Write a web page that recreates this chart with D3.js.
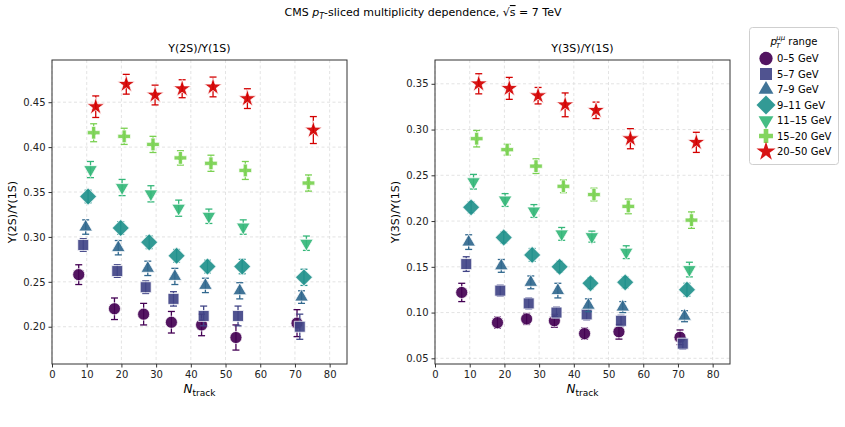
<!DOCTYPE html>
<html>
<head>
<meta charset="utf-8">
<script src="https://cdn.jsdelivr.net/npm/d3@7"></script>
<style>
  body { margin: 0; background: #fff; }
  svg { display: block; font-family: "DejaVu Sans", sans-serif; }
</style>
</head>
<body>
<svg width="845" height="427"></svg>
<script>
// pT slices of the dimuon
const ptBins = ["0–5 GeV", "5–7 GeV", "7–9 GeV", "9–11 GeV", "11–15 GeV", "15–20 GeV", "20–50 GeV"];

// mean Ntrack of each point, one row per pT slice
const nTrack = [
  [7.7, 18.0, 26.4, 34.4, 43.1, 53.0, 70.6],
  [9.0, 18.8, 27.0, 35.0, 43.7, 53.6, 71.4],
  [9.7, 19.1, 27.6, 35.4, 44.2, 54.1, 71.9],
  [10.4, 19.8, 28.0, 35.9, 44.8, 54.8, 72.6],
  [11.1, 20.2, 28.5, 36.5, 45.2, 55.1, 73.3],
  [12.0, 20.8, 29.1, 37.0, 45.8, 55.7, 73.9],
  [12.6, 21.4, 29.7, 37.5, 46.4, 56.3, 75.3]
];

// Y(2S)/Y(1S)
const ratio2S = [
  [0.258, 0.220, 0.214, 0.205, 0.202, 0.188, 0.204],
  [0.291, 0.262, 0.244, 0.231, 0.212, 0.212, 0.200],
  [0.311, 0.288, 0.265, 0.256, 0.246, 0.240, 0.233],
  [0.345, 0.310, 0.294, 0.279, 0.267, 0.267, 0.255],
  [0.375, 0.355, 0.348, 0.332, 0.323, 0.311, 0.293],
  [0.416, 0.412, 0.403, 0.388, 0.382, 0.374, 0.360],
  [0.445, 0.470, 0.458, 0.465, 0.467, 0.454, 0.419]
];
const err2S = [
  [0.011, 0.012, 0.012, 0.012, 0.012, 0.014, 0.015],
  [0.007, 0.007, 0.007, 0.008, 0.011, 0.011, 0.014],
  [0.008, 0.008, 0.008, 0.009, 0.008, 0.009, 0.007],
  [0.007, 0.007, 0.007, 0.007, 0.007, 0.008, 0.009],
  [0.009, 0.009, 0.009, 0.009, 0.008, 0.008, 0.008],
  [0.010, 0.009, 0.009, 0.008, 0.009, 0.010, 0.009],
  [0.012, 0.011, 0.011, 0.010, 0.011, 0.011, 0.015]
];

// Y(3S)/Y(1S)
const ratio3S = [
  [0.122, 0.089, 0.093, 0.091, 0.077, 0.079, 0.073],
  [0.153, 0.124, 0.110, 0.100, 0.098, 0.091, 0.066],
  [0.177, 0.151, 0.133, 0.124, 0.108, 0.106, 0.096],
  [0.215, 0.182, 0.163, 0.150, 0.132, 0.133, 0.125],
  [0.243, 0.223, 0.211, 0.186, 0.183, 0.166, 0.147],
  [0.290, 0.278, 0.260, 0.238, 0.229, 0.216, 0.201],
  [0.350, 0.345, 0.337, 0.327, 0.321, 0.290, 0.286]
];
const err3S = [
  [0.010, 0.006, 0.006, 0.007, 0.006, 0.008, 0.008],
  [0.008, 0.006, 0.006, 0.006, 0.006, 0.006, 0.006],
  [0.008, 0.007, 0.007, 0.008, 0.007, 0.006, 0.006],
  [0.006, 0.006, 0.007, 0.006, 0.006, 0.006, 0.007],
  [0.008, 0.007, 0.007, 0.007, 0.006, 0.007, 0.008],
  [0.009, 0.006, 0.008, 0.007, 0.007, 0.008, 0.009],
  [0.011, 0.012, 0.009, 0.013, 0.009, 0.011, 0.011]
];

const xTicks = [0, 10, 20, 30, 40, 50, 60, 70, 80];
const yTicks2S = [0.20, 0.25, 0.30, 0.35, 0.40, 0.45];
const yTicks3S = [0.05, 0.10, 0.15, 0.20, 0.25, 0.30, 0.35];

const colors = ["#440154", "#414487", "#31688e", "#21918c", "#35b779", "#7ad151", "#d40000"];
const shapes = [
  { t: d3.symbolCircle, s: 115, r: 0 },
  { t: d3.symbolSquare, s: 120, r: 0 },
  { t: d3.symbolTriangle, s: 80, r: 0 },
  { t: d3.symbolSquare, s: 150, r: 45 },
  { t: d3.symbolTriangle, s: 80, r: 180 },
  { t: d3.symbolCross, s: 90, r: 0 },
  { t: d3.symbolStar, s: 95, r: 0 }
];

const svg = d3.select("svg");

// figure title
const title = svg.append("text")
  .attr("x", 423).attr("y", 16)
  .attr("text-anchor", "middle")
  .style("font-size", "11px").attr("fill", "#000");
title.append("tspan").text("CMS ");
title.append("tspan").attr("font-style", "italic").text("p");
title.append("tspan").attr("dy", 3).style("font-size", "8px").attr("font-style", "italic").text("T");
title.append("tspan").attr("dy", -3).text("-sliced multiplicity dependence, √");
title.append("tspan").style("text-decoration", "overline").text("s");
title.append("tspan").text(" = 7 TeV");

function panel(left, right, yDomain, yTicks, ratios, errs, name, ylab) {
  const top = 60, bottom = 364;
  const x = d3.scaleLinear().domain([0, 85]).range([left, right]);
  const y = d3.scaleLinear().domain(yDomain).range([bottom, top]);
  const g = svg.append("g");

  // grid
  g.selectAll(".gx").data(xTicks).enter().append("line")
    .attr("x1", d => x(d)).attr("x2", d => x(d))
    .attr("y1", top).attr("y2", bottom)
    .attr("stroke", "#dcdcdc").attr("stroke-width", 0.8)
    .attr("stroke-dasharray", "3,2.5");
  g.selectAll(".gy").data(yTicks).enter().append("line")
    .attr("x1", left).attr("x2", right)
    .attr("y1", d => y(d)).attr("y2", d => y(d))
    .attr("stroke", "#dcdcdc").attr("stroke-width", 0.8)
    .attr("stroke-dasharray", "3,2.5");

  // axes
  const ax = g.append("g").attr("transform", `translate(0,${bottom})`)
    .call(d3.axisBottom(x).tickValues(xTicks).tickSize(3.5).tickPadding(3).tickFormat(d3.format("d")));
  const ay = g.append("g").attr("transform", `translate(${left},0)`)
    .call(d3.axisLeft(y).tickValues(yTicks).tickSize(3.5).tickPadding(3).tickFormat(d3.format(".2f")));
  [ax, ay].forEach(a => {
    a.select(".domain").remove();
    a.selectAll("text").style("font-size", "10px").attr("fill", "#222")
      .style("font-family", "DejaVu Sans, sans-serif");
    a.selectAll("line").attr("stroke", "#333");
  });
  g.append("rect")
    .attr("x", left).attr("y", top)
    .attr("width", right - left).attr("height", bottom - top)
    .attr("fill", "none").attr("stroke", "#333").attr("stroke-width", 1);

  // points, one group per pT slice
  ratios.forEach((vals, i) => {
    const s = g.append("g");
    const pts = vals.map((v, j) => ({ x: nTrack[i][j], y: v, e: errs[i][j] }));
    const eb = s.selectAll(".eb").data(pts).enter().append("g")
      .attr("stroke", colors[i]).attr("stroke-width", 1.3);
    eb.append("line")
      .attr("x1", d => x(d.x)).attr("x2", d => x(d.x))
      .attr("y1", d => y(d.y - d.e)).attr("y2", d => y(d.y + d.e));
    eb.append("line")
      .attr("x1", d => x(d.x) - 3.5).attr("x2", d => x(d.x) + 3.5)
      .attr("y1", d => y(d.y - d.e)).attr("y2", d => y(d.y - d.e));
    eb.append("line")
      .attr("x1", d => x(d.x) - 3.5).attr("x2", d => x(d.x) + 3.5)
      .attr("y1", d => y(d.y + d.e)).attr("y2", d => y(d.y + d.e));
    s.selectAll("path").data(pts).enter().append("path")
      .attr("d", d3.symbol().type(shapes[i].t).size(shapes[i].s))
      .attr("transform", d => `translate(${x(d.x)},${y(d.y)}) rotate(${shapes[i].r})`)
      .attr("fill", colors[i]).attr("fill-opacity", 0.92)
      .attr("stroke", "#fff").attr("stroke-opacity", 0.75).attr("stroke-width", 1);
  });

  // labels
  g.append("text")
    .attr("x", (left + right) / 2).attr("y", 52)
    .attr("text-anchor", "middle").style("font-size", "11px")
    .text(name);
  const xl = g.append("text")
    .attr("x", (left + right) / 2).attr("y", 393)
    .attr("text-anchor", "middle").style("font-size", "11px");
  xl.append("tspan").attr("font-style", "italic").style("font-size", "12px").text("N");
  xl.append("tspan").attr("dy", 3).style("font-size", "9px").text("track");
  g.append("text")
    .attr("transform", `translate(${left - 36},${(top + bottom) / 2}) rotate(-90)`)
    .attr("text-anchor", "middle").style("font-size", "11px")
    .text(ylab);
}

panel(52, 347, [0.1585, 0.497], yTicks2S, ratio2S, err2S, "Υ(2S)/Υ(1S)", "Υ(2S)/Υ(1S)");
panel(435, 730, [0.0438, 0.376], yTicks3S, ratio3S, err3S, "Υ(3S)/Υ(1S)", "Υ(3S)/Υ(1S)");

// legend
const lg = svg.append("g");
lg.append("rect")
  .attr("x", 749.5).attr("y", 27.5).attr("width", 89).attr("height", 137)
  .attr("rx", 3).attr("fill", "#fff").attr("stroke", "#cfcfcf");
const lt = lg.append("text").attr("x", 794).attr("y", 45)
  .attr("text-anchor", "middle").style("font-size", "10px");
lt.append("tspan").attr("font-style", "italic").text("p");
lt.append("tspan").attr("dy", 3).attr("dx", -1).style("font-size", "7px").attr("font-style", "italic").text("T");
lt.append("tspan").attr("dy", -8).attr("dx", -4).style("font-size", "7px").attr("font-style", "italic").text("μμ");
lt.append("tspan").attr("dy", 5).text(" range");
const items = lg.selectAll(".item").data(ptBins).enter().append("g")
  .attr("transform", (d, i) => `translate(766,${58.5 + i * 15.5})`);
items.append("path")
  .attr("d", (d, i) => d3.symbol().type(shapes[i].t).size(shapes[i].s * 1.2)())
  .attr("transform", (d, i) => `rotate(${shapes[i].r})`)
  .attr("fill", (d, i) => colors[i]).attr("fill-opacity", 0.92);
items.append("text")
  .attr("x", 11).attr("y", 3.5)
  .style("font-size", "10px")
  .text(d => d);
</script>
</body>
</html>
